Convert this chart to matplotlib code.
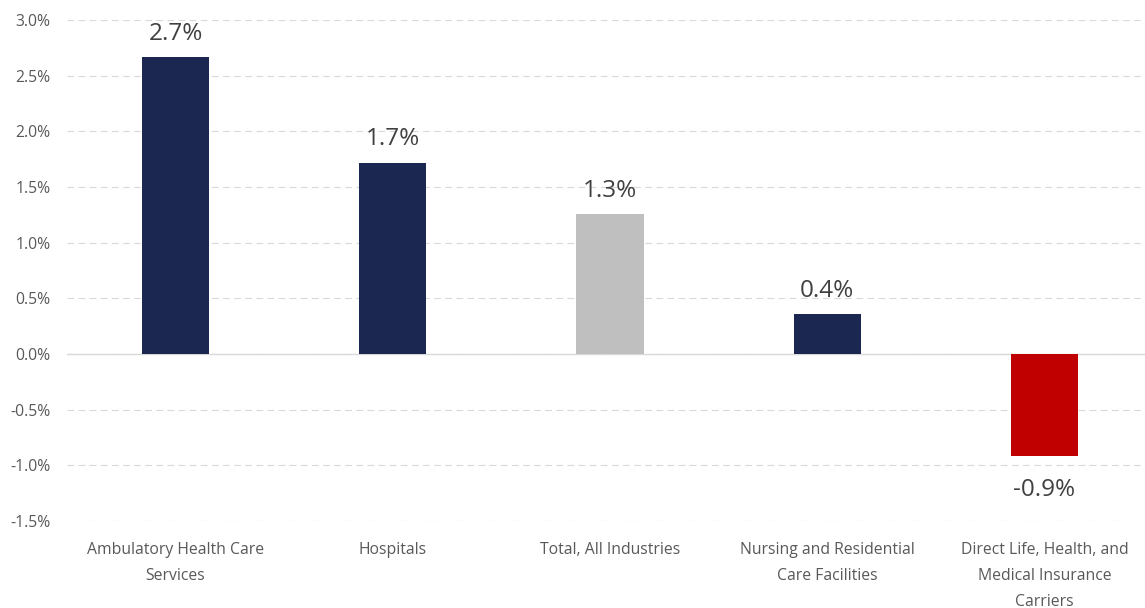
import matplotlib.pyplot as plt
from matplotlib.ticker import FuncFormatter

categories = ["Ambulatory Health Care\nServices", "Hospitals", "Total, All Industries",
              "Nursing and Residential\nCare Facilities",
              "Direct Life, Health, and\nMedical Insurance\nCarriers"]
growth = [2.67, 1.72, 1.26, 0.36, -0.92]
colors = ["#1B2750", "#1B2750", "#BFBFBF", "#1B2750", "#C00000"]
yticks = [-1.5, -1.0, -0.5, 0.0, 0.5, 1.0, 1.5, 2.0, 2.5, 3.0]

plt.rcParams['font.family'] = ['Open Sans', 'DejaVu Sans']

fig = plt.figure(figsize=(11.45, 6.08), dpi=100)
ax = fig.add_axes([67/1145, 87/608, 1086/1145, 501/608])

x = range(len(categories))
ax.bar(x, growth, width=0.31, color=colors, zorder=3)

for i, v in enumerate(growth):
    if v >= 0:
        ax.text(i, v + 0.1, f"{v:.1f}%", ha='center', va='bottom', fontsize=17.5, color='#404040')
    else:
        ax.text(i, v - 0.19, f"{v:.1f}%", ha='center', va='top', fontsize=17.5, color='#404040')

ax.set_xlim(-0.5, len(categories) - 0.5)
ax.set_ylim(-1.5, 3.0)
ax.set_yticks(yticks)
ax.yaxis.set_major_formatter(FuncFormatter(lambda v, p: f"{v:.1f}%"))
ax.set_xticks(list(x))
ax.set_xticklabels(categories, linespacing=1.85)
ax.tick_params(axis='both', length=0, labelsize=11.3, colors='#595959')
ax.tick_params(axis='x', pad=15)
ax.tick_params(axis='y', pad=12)

ax.grid(axis='y', color='#D9D9D9', linestyle=(0, (6, 4)), linewidth=0.8, zorder=0)
ax.axhline(0, color='#D9D9D9', linewidth=1, zorder=2)
for s in ax.spines.values():
    s.set_visible(False)

fig.savefig("out.png", dpi=100)
